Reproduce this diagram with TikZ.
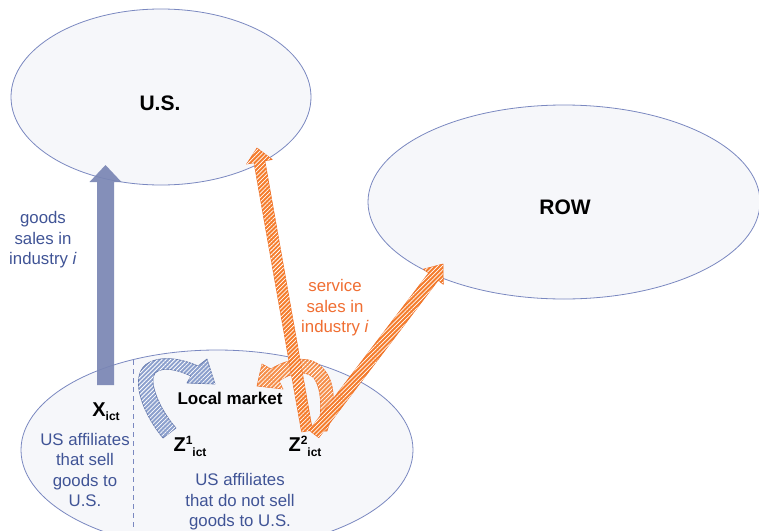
\documentclass[tikz,border=0pt]{standalone}
\usepackage{fontspec}
\setmainfont{Liberation Sans}
\usetikzlibrary{calc,shapes.geometric,patterns.meta}
\definecolor{ellfill}{RGB}{246,247,250}
\definecolor{ellline}{RGB}{122,136,192}
\definecolor{goodsblue}{RGB}{122,134,180}
\definecolor{txtblue}{RGB}{64,84,150}
\definecolor{orfill}{RGB}{245,125,45}
\definecolor{orline}{RGB}{238,110,35}
\definecolor{ortext}{RGB}{240,110,50}
\definecolor{lbfill}{RGB}{140,160,205}
\definecolor{lbline}{RGB}{100,120,172}
% #1 style, #2 start, #3 tip, #4 shaft half width, #5 head half width, #6 head length
\newcommand\blockarrow[6]{%
  \coordinate (bah) at ($(#3)!#6!(#2)$);
  \path[#1] ($(#2)!#4!90:(#3)$) -- ($(bah)!#4!90:(#3)$) -- ($(bah)!#5!90:(#3)$)
    -- (#3) -- ($(bah)!#5!-90:(#3)$) -- ($(bah)!#4!-90:(#3)$) -- ($(#2)!#4!-90:(#3)$) -- cycle;
}
\begin{document}
\begin{tikzpicture}[x=1pt,y=-1pt,
  ell/.style={ellipse, draw=ellline, fill=ellfill, line width=0.8pt, inner sep=0pt},
  bodytxt/.style={font=\fontsize{16.8}{20.5}\selectfont, align=center, inner sep=0pt},
  biglbl/.style={font=\fontsize{21}{21}\selectfont\bfseries, inner sep=0pt},
  goodsarrow/.style={fill=goodsblue, fill opacity=0.92},
  hatchor/.style={fill=orfill, draw=orline, line width=0.6pt, line join=round,
    postaction={pattern={Lines[angle=45,distance=3pt,line width=0.75pt]}, pattern color=white}},
  hatchblue/.style={fill=lbfill, draw=lbline, line width=0.7pt, line join=round,
    postaction={pattern={Lines[angle=45,distance=3pt,line width=0.75pt]}, pattern color=white}},
  vartxt/.style={inner sep=0pt}
]
\useasboundingbox (0,0) rectangle (759,530);
\fill[white] (0,0) rectangle (759,530);

% ellipses
\node[ell, minimum width=392pt, minimum height=200pt] (host) at (217,450) {};
\node[ell, minimum width=300pt, minimum height=176pt] (us) at (161,97) {};
\node[ell, minimum width=392pt, minimum height=194pt] (row) at (564,202) {};

% dashed divider
\coordinate (dtop) at (133,360);
\coordinate (dbot) at (133,532);
\draw[ellline, line width=0.8pt, dash pattern=on 5pt off 4pt] (dtop) -- (dbot);

% goods arrow
\coordinate (xbase) at (105.5,385);
\coordinate (xtip) at (105.5,165);
\blockarrow{goodsarrow}{xbase}{xtip}{8.5pt}{16pt}{17pt}

% orange service arrows
\coordinate (vL) at (307,431);
\coordinate (usTip) at (257,148);
\coordinate (vR) at (314,434);
\coordinate (rowTip) at (443,264);
\path[hatchor, fill opacity=0.85] (327,431) .. controls (336,405) and (337,378) .. (318,364)
  .. controls (305,355) and (285,360) .. (271,369) -- (262,364) -- (257,386) -- (283,389)
  -- (279,381) .. controls (292,372) and (306,370) .. (314,378)
  .. controls (322,390) and (322,410) .. (318,431) -- cycle;
\blockarrow{hatchor}{vL}{usTip}{5.5pt}{13pt}{14pt}
\blockarrow{hatchor}{vR}{rowTip}{6pt}{12.5pt}{16pt}

% blue curved arrow (Z1 -> local market)
\path[hatchblue] (163,438) .. controls (140,410) and (128,372) .. (150,362)
  .. controls (165,355) and (185,360) .. (198,366) -- (207,359) -- (215,384) -- (187,383)
  -- (191,376) .. controls (178,370) and (163,366) .. (155,373)
  .. controls (148,382) and (160,410) .. (176,428) -- cycle;

% labels
\node[biglbl] (uslbl) at (160,103) {U.S.};
\node[biglbl] (rowlbl) at (565,207) {ROW};
\node[bodytxt, text=txtblue] (goodslbl) at (43,240) {goods\\sales in\\industry \textit{i}};
\node[bodytxt, text=ortext] (servlbl) at (335,308) {service\\sales in\\industry \textit{i}};
\node[bodytxt, text=txtblue] (sellus) at (85,470) {US affiliates\\that sell\\goods to\\U.S.};
\node[bodytxt, text=txtblue] (nosell) at (240,502) {US affiliates\\that do not sell\\goods to U.S.};
\node[inner sep=0pt, font=\fontsize{17}{17}\selectfont\bfseries] (local) at (230,398) {Local market};
\node[vartxt] (xlbl) at (106,412) {{\fontsize{20}{20}\selectfont\bfseries X}\raisebox{-4pt}{\fontsize{12}{12}\selectfont\bfseries ict}};
\node[vartxt] (z1lbl) at (190,446) {{\fontsize{20}{20}\selectfont\bfseries Z}\raisebox{7pt}{\fontsize{12}{12}\selectfont\bfseries 1}\raisebox{-5pt}{\fontsize{12}{12}\selectfont\bfseries ict}};
\node[vartxt] (z2lbl) at (305,446) {{\fontsize{20}{20}\selectfont\bfseries Z}\raisebox{7pt}{\fontsize{12}{12}\selectfont\bfseries 2}\raisebox{-5pt}{\fontsize{12}{12}\selectfont\bfseries ict}};
\end{tikzpicture}
\end{document}
